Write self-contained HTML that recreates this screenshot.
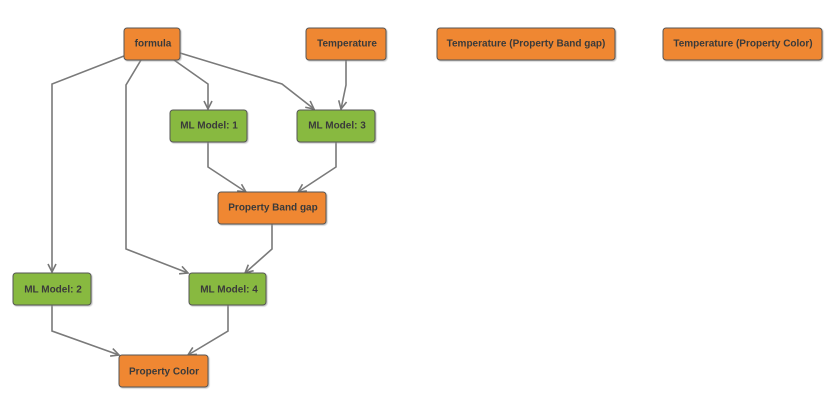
<!DOCTYPE html>
<html><head><style>
body{margin:0;background:#fff;width:837px;height:416px;overflow:hidden}
svg{position:absolute;left:0;top:0}
text{font-family:"Liberation Sans",sans-serif;font-size:10px;font-weight:bold;fill:#3a3a3a;text-anchor:middle;dominant-baseline:central}
</style></head><body>
<svg width="837" height="416">
<defs>
<marker id="a" markerWidth="12" markerHeight="12" refX="9" refY="5" orient="auto" markerUnits="userSpaceOnUse">
<path d="M1,1 L9,5 L1,9" fill="none" stroke="#777" stroke-width="1.6"/>
</marker>
<filter id="s"><feDropShadow dx="1" dy="1" stdDeviation="0.6" flood-color="#999" flood-opacity="0.6"/></filter>
</defs>
<g fill="none" stroke="#7a7a7a" stroke-width="1.6" marker-end="url(#a)">
<polyline points="124,56 52,84 52,272"/>
<polyline points="141,60 126,85 126,249 188,273"/>
<polyline points="174,60 208,84 208,109"/>
<polyline points="180,53 282,84 314,109"/>
<polyline points="346,60 346,85 341,109"/>
<polyline points="208,142 208,167 246,192"/>
<polyline points="336,142 336,167 298,192"/>
<polyline points="272,224 272,249 245,273"/>
<polyline points="52,305 52,331 119,355"/>
<polyline points="228,305 228,331 188,355"/>
</g>
<g stroke="#555" stroke-width="1" filter="url(#s)">
<rect x="124" y="28" width="56" height="32" rx="3" fill="#ef8733"/>
<rect x="306" y="28" width="80" height="32" rx="3" fill="#ef8733"/>
<rect x="437" y="28" width="178" height="32" rx="3" fill="#ef8733"/>
<rect x="663" y="28" width="159" height="32" rx="3" fill="#ef8733"/>
<rect x="170" y="110" width="77" height="32" rx="3" fill="#88b941"/>
<rect x="297" y="110" width="78" height="32" rx="3" fill="#88b941"/>
<rect x="218" y="192" width="108" height="32" rx="3" fill="#ef8733"/>
<rect x="13" y="273" width="78" height="32" rx="3" fill="#88b941"/>
<rect x="189" y="273" width="77" height="32" rx="3" fill="#88b941"/>
<rect x="119" y="355" width="89" height="32" rx="3" fill="#ef8733"/>
</g>
<text x="153" y="44">formula</text>
<text x="347" y="44">Temperature</text>
<text x="526" y="44">Temperature (Property Band gap)</text>
<text x="743" y="44">Temperature (Property Color)</text>
<text x="209" y="126">ML Model: 1</text>
<text x="337" y="126">ML Model: 3</text>
<text x="273" y="208">Property Band gap</text>
<text x="53" y="290">ML Model: 2</text>
<text x="229" y="290">ML Model: 4</text>
<text x="164" y="372">Property Color</text>
</svg>
</body></html>
